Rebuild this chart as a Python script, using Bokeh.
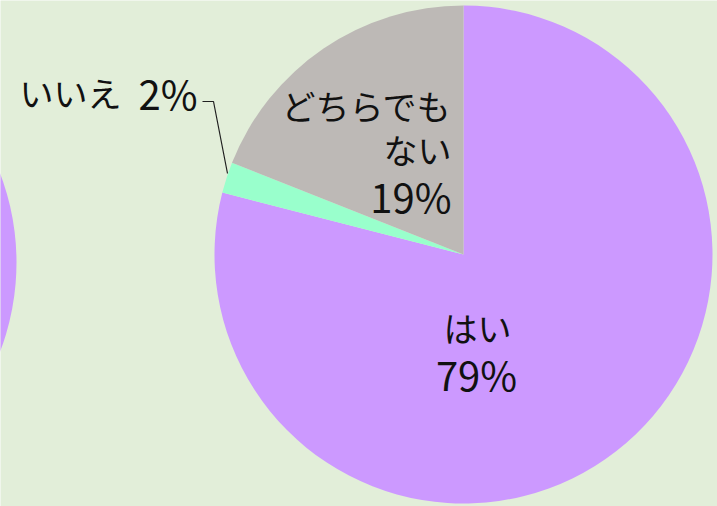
import math
from bokeh.plotting import figure
from bokeh.models import Range1d
from bokeh.core.properties import value
from bokeh.embed import file_html
from bokeh.resources import INLINE

# ---- data ----
categories = ["はい", "いいえ", "どちらでもない"]
percents = [79, 2, 19]
colors = ["#CC99FF", "#99FFCC", "#BDB9B6"]

W, H = 717, 506
FONT = "Noto Sans CJK JP"
FS_KANA = "34px"
FS_NUM = "40px"

p = figure(width=W, height=H, output_backend="svg", toolbar_location=None,
           x_range=Range1d(0, W), y_range=Range1d(0, H), min_border=0,
           background_fill_color="#E2EED9", border_fill_color="#E2EED9")
p.axis.visible = False
p.grid.visible = False
p.outline_line_color = None


def fy(y):
    return H - y


def pie(cx, cy, r):
    total = sum(percents)
    cum = 0.0
    starts, ends = [], []
    for v in percents:
        a0 = math.pi / 2 - 2 * math.pi * cum / total
        cum += v
        a1 = math.pi / 2 - 2 * math.pi * cum / total
        starts.append(a0)
        ends.append(a1)
    p.wedge(x=[cx] * len(percents), y=[fy(cy)] * len(percents), radius=r,
            start_angle=starts, end_angle=ends, direction="clock",
            fill_color=colors, line_color=None)


# partial pie at left edge (previous chart)
pie(-234, 262, 250)
# main pie
pie(463, 254, 249)

# leader line for いいえ
p.line(x=[202, 213, 227], y=[fy(101), fy(101), fy(173)], line_color="#202020", line_width=1.2)


def label(x, y, txt, align, size):
    p.text(x=[x], y=[fy(y)], text=[txt], text_font=value(FONT), text_font_size=size,
           text_align=align, text_baseline="middle", text_color="#111111")


label(121, 92, categories[1], "right", FS_KANA)
label(197, 92, f"{percents[1]}%", "right", FS_NUM)
label(451, 105, categories[2][:5], "right", FS_KANA)
label(451, 149, categories[2][5:], "right", FS_KANA)
label(451, 195, f"{percents[2]}%", "right", FS_NUM)
label(477, 327, categories[0], "center", FS_KANA)
label(476, 373, f"{percents[0]}%", "center", FS_NUM)

open("out.html", "w").write(file_html(p, INLINE))
